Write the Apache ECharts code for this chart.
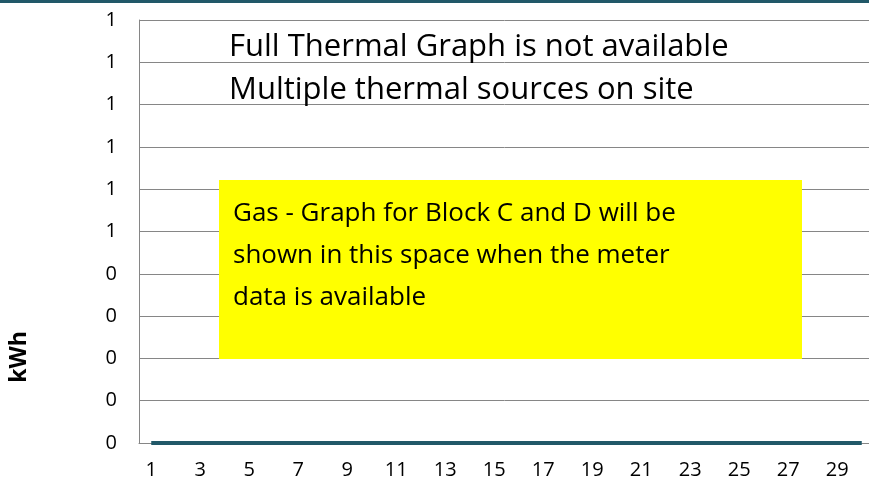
<!DOCTYPE html>
<html>
<head>
<meta charset="utf-8">
<title>Gas kWh</title>
<script src="https://cdn.jsdelivr.net/npm/echarts@6/dist/echarts.min.js"></script>
<style>
	html, body { margin: 0; padding: 0; background: #fff; }
	#echarts1 { width: 869px; height: 488px; }
</style>
</head>
<body>
<div id="echarts1"></div>
<script>
// 数据 ------------------------------
var days = [];
for (var d = 1; d <= 30; d++) days.push(String(d));
// meter has no data yet, everything sits at 0
var kwhValues = [0, 0, 0, 0, 0, 0, 0, 0, 0, 0, 0, 0, 0, 0, 0,
	0, 0, 0, 0, 0, 0, 0, 0, 0, 0, 0, 0, 0, 0, 0];
var yTickMin = 0, yTickMax = 1, yTickStep = 0.1;

var noteLines = ['Full Thermal Graph is not available', 'Multiple thermal sources on site'];
var boxText = 'Gas - Graph for Block C and D will be\nshown in this space when the meter\ndata is available';

var FONT = '"Open Sans"';

/**
 * 燃气图
 */
function gasChart(){
	var echarts1 = echarts.init(document.getElementById('echarts1'));

	option = {
		animation : false,
		backgroundColor : '#fff',
		textStyle : { fontFamily : FONT },
		grid : {
			left : 139,
			top : 20,
			width : 735,   // runs a bit past the right edge, like the original
			height : 423,
			outerBoundsMode : 'none'
		},
		xAxis : [ {
			type : 'category',
			data : days,
			axisLine : { lineStyle : { color : '#868686', width : 1 } },
			axisTick : { show : false },
			axisLabel : {
				interval : 1,
				color : '#000',
				fontSize : 20,
				fontFamily : FONT,
				margin : 17
			}
		} ],
		yAxis : [ {
			type : 'value',
			min : yTickMin,
			max : yTickMax,
			interval : yTickStep,
			axisLine : { show : true, lineStyle : { color : '#868686', width : 1 } },
			axisTick : { show : false },
			splitLine : { lineStyle : { color : '#868686', width : 1 } },
			axisLabel : {
				color : '#000',
				fontSize : 20,
				fontFamily : FONT,
				margin : 22,
				formatter : function(v){ return String(Math.round(v)); }
			}
		} ],
		series : [ {
			name : 'kWh',
			type : 'line',
			data : kwhValues,
			symbol : 'none',
			clip : false,
			lineStyle : { color : '#215868', width : 4 },
			z : 5
		} ],
		graphic : [
			// 顶部色条
			{ type : 'rect', x : 0, y : 0, z : 100,
				shape : { width : 869, height : 3 },
				style : { fill : '#215868' } },
			{ type : 'text', x : 229, y : 47, z : 100,
				style : { text : noteLines[0], font : '31px ' + FONT, fill : '#000', verticalAlign : 'middle' } },
			{ type : 'text', x : 229, y : 90, z : 100,
				style : { text : noteLines[1], font : '31px ' + FONT, fill : '#000', verticalAlign : 'middle' } },
			{ type : 'rect', x : 219, y : 180, z : 100,
				shape : { width : 583, height : 179 },
				style : { fill : '#ffff00' } },
			{ type : 'text', x : 233, y : 193, z : 101,
				style : { text : boxText, font : '26px ' + FONT, lineHeight : 42, fill : '#000', verticalAlign : 'top' } },
			{ type : 'text', x : 19, y : 357, z : 100, rotation : Math.PI / 2,
				style : { text : 'kWh', font : 'bold 23px ' + FONT, fill : '#000',
					align : 'center', verticalAlign : 'middle' } }
		]
	};
	echarts1.setOption(option);
}

gasChart();
</script>
</body>
</html>
